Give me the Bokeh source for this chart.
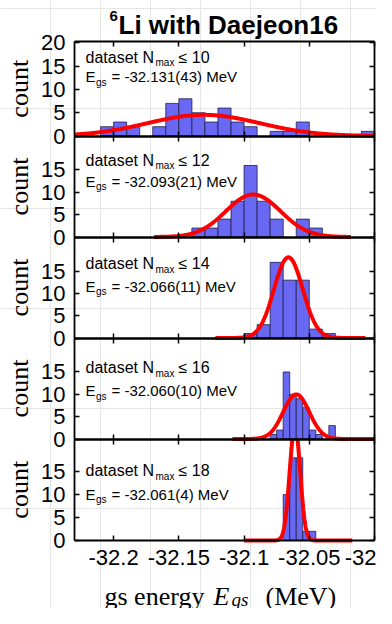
import numpy as np
from bokeh.plotting import figure
from bokeh.models import Range1d, FixedTicker, LinearAxis, Label, CustomJSTickFormatter
from bokeh.embed import file_html
from bokeh.resources import INLINE

# ---------------- data ----------------
panel_nmax = ["10", "12", "14", "16", "18"]
panel_egs_text = ["-32.131(43)", "-32.093(21)", "-32.066(11)", "-32.060(10)", "-32.061(4)"]
fit_mean = [-32.131, -32.093, -32.066, -32.060, -32.061]
fit_sigma = [0.043, 0.021, 0.011, 0.010, 0.004]
bin_start = [-32.21, -32.14, -32.10, -32.08, -32.07]
bin_width = [0.01, 0.01, 0.01, 0.005, 0.005]
counts_nmax10 = [2, 3, 2, 0, 2, 7, 8, 5, 3, 6, 3, 2, 0, 1, 1, 3, 0, 0, 0, 0, 1]
counts_nmax12 = [2, 2, 4, 8, 16, 8, 4, 0, 4, 2]
counts_nmax14 = [1, 3, 17, 13, 13, 2, 1]
counts_nmax16 = [1, 2, 15, 10, 9, 7, 2, 1, 0, 3]
counts_nmax18 = [10, 18, 18, 2, 2]
curve_lo = [-32.23, -32.169, -32.122, -32.109, -32.100]
curve_hi = [-32.0, -32.018, -32.007, -32.0, -32.017]
x_ticks = [-32.2, -32.15, -32.1, -32.05, -32.0]
x_tick_labels = ["-32.2", "-32.15", "-32.1", "-32.05", "-32"]
y_ticks_top = [0, 5, 10, 15, 20]
y_ticks_rest = [0, 5, 10, 15]
title_main = "Li with Daejeon16"
title_sup = "6"

counts_all = [counts_nmax10, counts_nmax12, counts_nmax14, counts_nmax16, counts_nmax18]

# ---------------- layout / style ----------------
W, H = 376, 608                      # canvas size (px), fits 392x624 window with 8px margins
FL, FR = 74, 374                     # panel left / right edges (px from canvas left)
panel_top_px = [567, 472.5, 371.5, 270.5, 169.5]   # px from canvas bottom
panel_bot_px = [472.5, 371.5, 270.5, 169.5, 68]
y_ends = [20.3, 22.6, 22.7, 22.6, 22.1]
line1_off = [15.7, 24, 26.7, 29.5, 31.7]
line2_off = [35.3, 45.3, 49, 52.5, 55]
X0, X1 = -32.23, -32.0
SANS = "Liberation Sans"
SERIF = "Liberation Serif"
BAR_FILL = "#6868F2"
BAR_LINE = "#20204a"
AX_W = 1.8
blank = CustomJSTickFormatter(code="return ''")

ppu_x = (FR - FL) / (X1 - X0)
mev_range = Range1d(X0 - FL / ppu_x, X1 + (W - FR) / ppu_x)
extra_y = {}
for i in range(5):
    ppu = (panel_top_px[i] - panel_bot_px[i]) / y_ends[i]
    extra_y["p%d" % i] = Range1d(-panel_bot_px[i] / ppu, (H - panel_bot_px[i]) / ppu)

p = figure(width=W, height=H, x_range=Range1d(0, W), y_range=Range1d(0, H),
           min_border=0, x_axis_location=None, y_axis_location=None,
           output_backend="svg", toolbar_location=None,
           background_fill_color="white", border_fill_color="white",
           outline_line_color=None)
p.extra_x_ranges = {"mev": mev_range}
p.extra_y_ranges = extra_y


def tick_axis(ticks, **kw):
    return LinearAxis(ticker=FixedTicker(ticks=ticks), major_tick_in=5, major_tick_out=0,
                      minor_tick_line_color=None, axis_line_width=AX_W, axis_line_color="black",
                      major_tick_line_width=1.5, major_tick_line_color="black", **kw)


def text(x, y, s, size, font=SANS, style="normal", **kw):
    kw.setdefault("text_baseline", "alphabetic")
    p.add_layout(Label(x=x, y=y, text=s, text_font=font, text_font_style=style,
                       text_font_size=size, text_color="black", **kw))


for i in range(5):
    rn = "p%d" % i
    yt = y_ticks_top if i == 0 else y_ticks_rest
    c = counts_all[i]
    w = bin_width[i]

    # histogram
    lefts = [bin_start[i] + k * w for k in range(len(c)) if c[k] > 0]
    tops = [c[k] for k in range(len(c)) if c[k] > 0]
    rights = [l + w for l in lefts]
    p.quad(left=lefts, right=rights, bottom=0, top=tops, x_range_name="mev", y_range_name=rn,
           fill_color=BAR_FILL, line_color=BAR_LINE, line_width=0.8)

    # gaussian fit curve (cut at the panel top)
    n = sum(c)
    xs = np.linspace(curve_lo[i], curve_hi[i], 600)
    ys = n * w / (np.sqrt(2 * np.pi) * fit_sigma[i]) * np.exp(-0.5 * ((xs - fit_mean[i]) / fit_sigma[i]) ** 2)
    ys = np.where(ys > y_ends[i], np.nan, ys)
    p.line(xs, ys, x_range_name="mev", y_range_name=rn, line_color="#FF0000", line_width=4)

    # axes: left (labelled), right, top, bottom
    la = tick_axis(yt, y_range_name=rn, fixed_location=FL, bounds=(0, y_ends[i]),
                   major_label_text_font=SANS, major_label_text_font_size="22px",
                   major_label_text_color="black", major_label_standoff=9)
    p.add_layout(la, "left")
    ra = tick_axis(yt, y_range_name=rn, fixed_location=FR, bounds=(0, y_ends[i]), formatter=blank)
    p.add_layout(ra, "right")
    ta = tick_axis(x_ticks, x_range_name="mev", y_range_name=rn, fixed_location=y_ends[i],
                   bounds=(X0, X1), formatter=blank)
    p.add_layout(ta, "above")
    if i < 4:
        ba = tick_axis(x_ticks, x_range_name="mev", y_range_name=rn, fixed_location=0,
                       bounds=(X0, X1), formatter=blank)
    else:
        ba = tick_axis(x_ticks, x_range_name="mev", y_range_name=rn, fixed_location=0,
                       bounds=(X0, X1),
                       major_label_overrides={t: s for t, s in zip(x_ticks, x_tick_labels)},
                       major_label_text_font=SANS, major_label_text_font_size="22px",
                       major_label_text_color="black", major_label_standoff=9)
    p.add_layout(ba, "below")

    # "count" label
    text(19, (panel_top_px[i] + panel_bot_px[i]) / 2, "count", "26px", font=SERIF,
         angle=np.pi / 2, text_align="center", text_baseline="middle")

    # panel annotations
    b1 = panel_top_px[i] - line1_off[i]
    b2 = panel_top_px[i] - line2_off[i]
    text(85, b1, "dataset N", "16px")
    text(155, b1 - 5.5, "max", "10px")
    text(178, b1, "\u2264 " + panel_nmax[i], "16px")
    text(85, b2, "E", "15px")
    text(95.5, b2 - 5.5, "gs", "10px")
    text(111, b2, "= " + panel_egs_text[i] + " MeV", "15px")

# title
text(109, 593, title_sup, "15px", style="bold")
text(118, 584, title_main, "26px", style="bold")

# x-axis label
text(104, 12, "gs energy", "26px", font=SERIF)
text(213, 12, "E", "26px", font=SERIF, style="italic")
text(231, 9, "qs", "19px", font=SERIF, style="italic")
text(265, 12, "(MeV)", "26px", font=SERIF)

open("out.html", "w").write(file_html(p, INLINE))
